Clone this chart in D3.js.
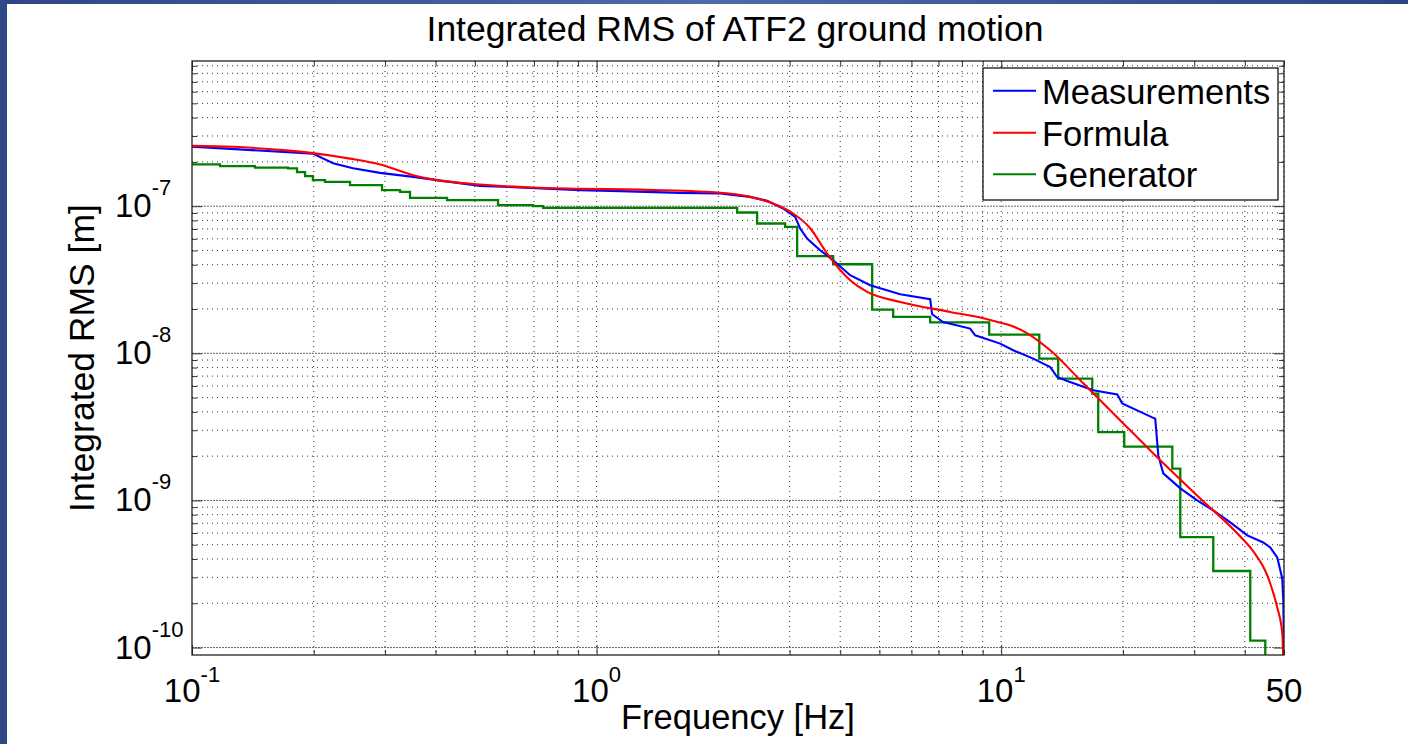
<!DOCTYPE html>
<html><head><meta charset="utf-8">
<script src="https://cdn.jsdelivr.net/npm/d3@7"></script>
<style>
body{margin:0;background:#fff;}
text{font-family:"Liberation Sans",Arial,Helvetica,sans-serif;fill:#000;}
</style>
</head><body>
<svg id="chart" width="1408" height="744"></svg>
<script>
// ---- data ----
const seriesNames = ["Measurements", "Formula", "Generator"];
const seriesColors = ["#0000ff", "#ff0000", "#008000"];

const measFreq = [0.1,0.199,0.2232,0.25,0.2916,0.352,0.4034,0.515,0.685,0.910,1.143,1.608,2.02,2.396,2.639,2.891,3.095,3.185,3.314,3.568,3.843,4.234,4.745,5.628,6.675,6.75,7.187,8.381,8.626,9.943,10.71,12.0,13.22,13.75,14.56,16.88,19.36,19.91,23.62,24.03,24.45,25.15,27.71,30.51,33.43,36.83,40.56,44.44,46.24,48.12,49.5,49.8,50];
const measVal = [2.539e-7,2.276e-7,1.961e-7,1.813e-7,1.685e-7,1.582e-7,1.503e-7,1.374e-7,1.332e-7,1.285e-7,1.265e-7,1.232e-7,1.22e-7,1.157e-7,1.087e-7,9.646e-8,8.457e-8,7.052e-8,6.03e-8,5.02e-8,4.293e-8,3.393e-8,2.901e-8,2.519e-8,2.33e-8,1.842e-8,1.632e-8,1.472e-8,1.325e-8,1.164e-8,1.048e-8,9.2e-9,8.066e-9,6.9e-9,6.481e-9,5.6e-9,5.26e-9,4.57e-9,3.668e-9,3.595e-9,2.023e-9,1.527e-9,1.207e-9,1.0e-9,8.551e-10,7.086e-10,5.78e-10,5.18e-10,4.79e-10,4.094e-10,2.946e-10,2.088e-10,8.55e-11];

const formulaFreq = [0.1,0.1263,0.1679,0.199,0.2458,0.2916,0.352,0.4034,0.515,0.685,0.910,1.281,1.986,2.396,2.794,3.06,3.372,3.714,4.234,4.664,5.628,7.479,9.026,11.6,13.22,15.95,19.36,23.36,31.05,38.98,41.98,45.46,48.12,49.52,49.95];
const formulaVal = [2.571e-7,2.532e-7,2.404e-7,2.294e-7,2.104e-7,1.921e-7,1.625e-7,1.503e-7,1.405e-7,1.340e-7,1.315e-7,1.295e-7,1.239e-7,1.157e-7,1.016e-7,8.918e-8,7.085e-8,4.768e-8,3.138e-8,2.612e-8,2.234e-8,1.910e-8,1.729e-8,1.368e-8,1.048e-8,6.249e-9,3.668e-9,2.188e-9,1.031e-9,5.69e-10,4.5e-10,3.09e-10,1.871e-10,1.245e-10,6e-11];

const genFreq = [0.1,0.1173,0.1431,0.1727,0.1818,0.1903,0.199,0.2132,0.2458,0.2949,0.3267,0.3458,0.4270,0.5707,0.6966,0.7375,2.225,2.493,2.924,3.131,3.843,4.799,5.408,6.675,9.34,12.42,13.83,16.79,17.37,20.14,26.48,27.71,33.43,41.27,44.95];
const genVal = [1.921e-7,1.871e-7,1.827e-7,1.805e-7,1.703e-7,1.6e-7,1.503e-7,1.463e-7,1.389e-7,1.285e-7,1.251e-7,1.139e-7,1.099e-7,1.016e-7,1.0e-7,9.737e-8,9.06e-8,7.625e-8,7.231e-8,4.57e-8,4.03e-8,1.982e-8,1.766e-8,1.625e-8,1.34e-8,9.2e-9,6.73e-9,5.32e-9,2.914e-9,2.319e-9,1.643e-9,5.63e-10,3.315e-10,1.116e-10,5e-11];

const xTickValues = [0.1, 1, 10, 50];
const xTickBase = ["10", "10", "10", "50"];
const xTickExp = ["-1", "0", "1", ""];
const yTickValues = [1e-7, 1e-8, 1e-9, 1e-10];
const yTickBase = ["10", "10", "10", "10"];
const yTickExp = ["-7", "-8", "-9", "-10"];

const titleText = "Integrated RMS of ATF2 ground motion";
const xLabelText = "Frequency [Hz]";
const yLabelText = "Integrated RMS [m]";

// ---- layout ----
const L = 192, R = 1284, T = 61, B = 655;
const svg = d3.select("#chart");

const defs = svg.append("defs");
const grad = defs.append("linearGradient").attr("id","topgrad").attr("x1","0").attr("x2","1").attr("y1","0").attr("y2","0");
grad.append("stop").attr("offset","0%").attr("stop-color","#2e4686");
grad.append("stop").attr("offset","50%").attr("stop-color","#4d6aab");
grad.append("stop").attr("offset","100%").attr("stop-color","#2c4688");
defs.append("clipPath").attr("id","plotclip").append("rect").attr("x",L).attr("y",T).attr("width",R-L).attr("height",B-T);

svg.append("rect").attr("x",0).attr("y",0).attr("width",1408).attr("height",744).attr("fill","#fff");
svg.append("rect").attr("x",0).attr("y",0).attr("width",1408).attr("height",4).attr("fill","url(#topgrad)");
svg.append("rect").attr("x",0).attr("y",0).attr("width",7).attr("height",744).attr("fill","#2f4888");

const x = d3.scaleLog().domain([0.1, 50]).range([L, R]);
const y = d3.scaleLog().domain([8.9e-11, 9.7e-7]).range([B, T]);

// tick sets
const xMajor = [0.1, 1, 10];
const xMinor = [];
[0.1, 1, 10].forEach(d => { for (let k = 2; k <= 9; k++) { const v = +(k*d).toPrecision(3); if (v <= 50) xMinor.push(v); } });
const yMajor = [1e-10, 1e-9, 1e-8, 1e-7];
const yMinor = [];
[1e-10, 1e-9, 1e-8, 1e-7].forEach(d => { for (let k = 2; k <= 9; k++) { const v = k*d; if (v >= 8.9e-11 && v <= 9.7e-7) yMinor.push(v); } });

// grid
const grid = svg.append("g");
grid.selectAll(".gxm").data(xMinor.concat(xMajor.slice(1))).join("line")
  .attr("x1", d => x(d)).attr("x2", d => x(d)).attr("y1", T).attr("y2", B)
  .attr("stroke", "#333").attr("stroke-width", 1).attr("stroke-dasharray", "1,4");
grid.selectAll(".gym").data(yMinor).join("line")
  .attr("x1", L).attr("x2", R).attr("y1", d => y(d)).attr("y2", d => y(d))
  .attr("stroke", "#333").attr("stroke-width", 1).attr("stroke-dasharray", "1,4");
grid.selectAll(".gyM").data(yMajor).join("line")
  .attr("x1", L).attr("x2", R).attr("y1", d => y(d)).attr("y2", d => y(d))
  .attr("stroke", "#666").attr("stroke-width", 1).attr("stroke-dasharray", "2,1");

// axes (ticks inward on all four sides)
function addAxis(gen, tr, vals, size) {
  svg.append("g").attr("transform", tr)
    .call(gen.tickValues(vals).tickSize(-size).tickSizeOuter(0).tickFormat(""))
    .call(g => g.select(".domain").remove())
    .call(g => g.selectAll("line").attr("stroke", "#333"));
}
addAxis(d3.axisBottom(x), `translate(0,${B})`, xMajor, 10);
addAxis(d3.axisBottom(x), `translate(0,${B})`, xMinor, 5);
addAxis(d3.axisTop(x), `translate(0,${T})`, xMajor, 10);
addAxis(d3.axisTop(x), `translate(0,${T})`, xMinor, 5);
addAxis(d3.axisLeft(y), `translate(${L},0)`, yMajor, 10);
addAxis(d3.axisLeft(y), `translate(${L},0)`, yMinor, 5);
addAxis(d3.axisRight(y), `translate(${R},0)`, yMajor, 10);
addAxis(d3.axisRight(y), `translate(${R},0)`, yMinor, 5);

// series
const lineGen = d3.line().x(d => x(d[0])).y(d => y(d[1]));
const plot = svg.append("g").attr("clip-path", "url(#plotclip)");
const meas = measFreq.map((f, i) => [f, measVal[i]]);
const form = formulaFreq.map((f, i) => [f, formulaVal[i]]);
const gen = genFreq.map((f, i) => [f, genVal[i]]);
plot.append("path").datum(gen).attr("fill","none").attr("stroke",seriesColors[2]).attr("stroke-width",2.3)
  .attr("d", lineGen.curve(d3.curveStepAfter));
plot.append("path").datum(meas).attr("fill","none").attr("stroke",seriesColors[0]).attr("stroke-width",2.1)
  .attr("d", lineGen.curve(d3.curveLinear));
plot.append("path").datum(form).attr("fill","none").attr("stroke",seriesColors[1]).attr("stroke-width",2.1)
  .attr("d", lineGen.curve(d3.curveMonotoneX));

// frame
svg.append("rect").attr("x", L).attr("y", T).attr("width", R-L).attr("height", B-T)
  .attr("fill","none").attr("stroke","#222").attr("stroke-width",1.3);

// tick labels
xTickValues.forEach((v, i) => {
  const t = svg.append("text").attr("x", x(v)).attr("y", 702).attr("text-anchor","middle").attr("font-size", 33);
  t.append("tspan").text(xTickBase[i]);
  if (xTickExp[i]) t.append("tspan").attr("dy", -20).attr("font-size", 22).text(xTickExp[i]);
});
yTickValues.forEach((v, i) => {
  const t = svg.append("text").attr("x", 115).attr("y", y(v) + 11).attr("text-anchor","start").attr("font-size", 33);
  t.append("tspan").text(yTickBase[i]);
  t.append("tspan").attr("dy", -22).attr("font-size", 22).text(yTickExp[i]);
});

// titles
svg.append("text").attr("x", 735).attr("y", 41).attr("text-anchor","middle").attr("font-size", 35.5).text(titleText);
svg.append("text").attr("x", (L+R)/2).attr("y", 729).attr("text-anchor","middle").attr("font-size", 34.5).text(xLabelText);
svg.append("text").attr("transform", `translate(94,${(T+B)/2}) rotate(-90)`).attr("text-anchor","middle").attr("font-size", 35.5).text(yLabelText);

// legend
const lg = svg.append("g");
lg.append("rect").attr("x", 983).attr("y", 68).attr("width", 295).attr("height", 132)
  .attr("fill", "#fff").attr("stroke", "#000").attr("stroke-width", 1.2);
const rowsY = [90.7, 132.7, 174.3];
seriesNames.forEach((n, i) => {
  lg.append("line").attr("x1", 993).attr("x2", 1036).attr("y1", rowsY[i]).attr("y2", rowsY[i])
    .attr("stroke", seriesColors[i]).attr("stroke-width", 2);
  lg.append("text").attr("x", 1042).attr("y", rowsY[i] + 13).attr("font-size", 34.5).text(n);
});
</script>
</body></html>
